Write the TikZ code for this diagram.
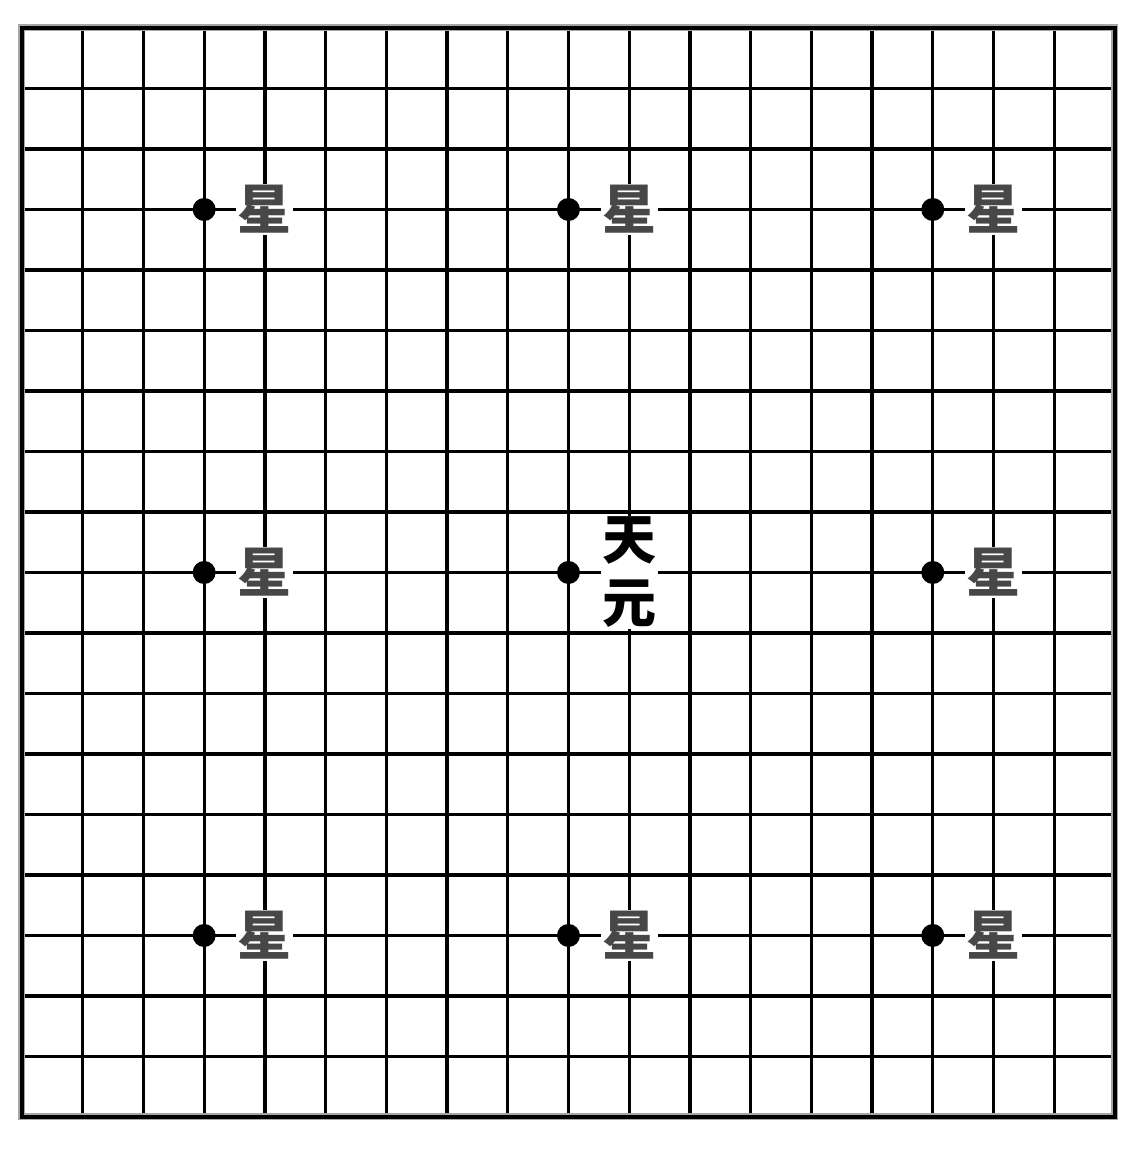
\documentclass[tikz,border=0pt]{standalone}
\usepackage{fontspec}
\newfontfamily\cjk{Noto Sans CJK SC}
\begin{document}
\begin{tikzpicture}[x=60.72pt,y=-60.5pt,
  gridline/.style={line width=3.3pt,black},
  starpt/.style={circle,fill=black,inner sep=0pt,minimum size=23pt},
  starlabel/.style={fill=white,inner sep=1.5pt,text=black!72,font=\cjk\bfseries\fontsize{54}{56}\selectfont},
  centerlabel/.style={fill=white,inner sep=1.5pt,align=center,text=black,font=\cjk\bfseries\fontsize{54}{63}\selectfont}]
\useasboundingbox[fill=white] (-0.3623,-0.4628) rectangle (18.346,18.579);
% grid
\foreach \i in {1,...,17} {
  \draw[gridline] (\i,0) -- (\i,18);
  \draw[gridline] (0,\i) -- (18,\i);
}
\draw[line width=7pt,black!35] (0,0) rectangle (18,18);
\draw[line width=4pt,black] (0,0) rectangle (18,18);
% star points
\foreach \c/\r/\n in {3/3/a,9/3/b,15/3/c,3/9/d,9/9/e,15/9/f,3/15/g,9/15/h,15/15/i} {
  \node[starpt] (s\n) at (\c,\r) {};
}
% labels
\foreach \c/\r/\n in {4/3/a,10/3/b,16/3/c,4/9/d,16/9/f,4/15/g,10/15/h,16/15/i} {
  \node[starlabel] (l\n) at (\c,\r) {星};
}
\node[centerlabel] (le) at (10,9) {天\\元};
\end{tikzpicture}
\end{document}
